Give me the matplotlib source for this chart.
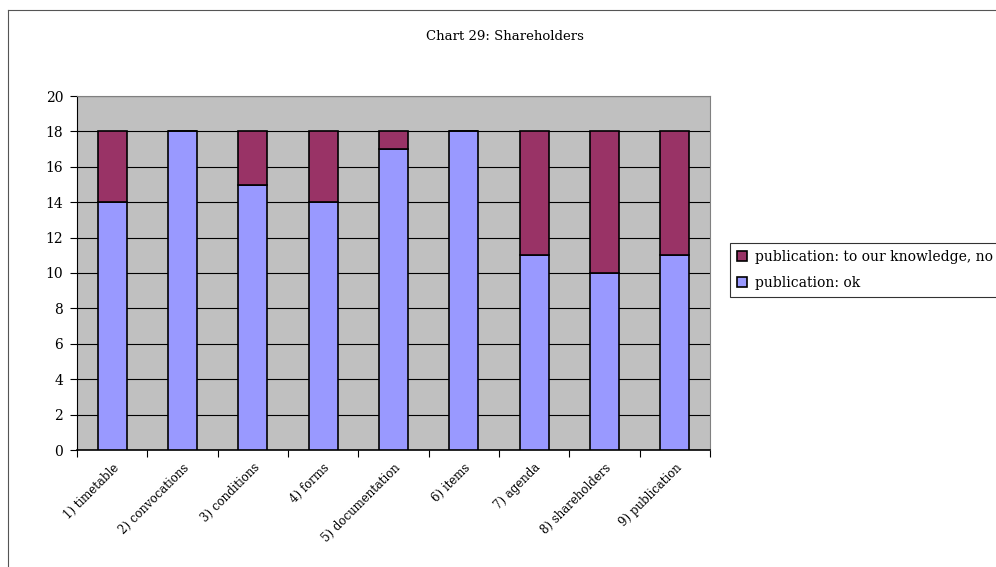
import matplotlib
matplotlib.use("Agg")
import matplotlib.pyplot as plt
import numpy as np
from matplotlib.lines import Line2D

categories = ["1) timetable", "2) convocations", "3) conditions", "4) forms",
              "5) documentation", "6) items", "7) agenda", "8) shareholders",
              "9) publication"]
pub_ok = [14, 18, 15, 14, 17, 18, 11, 10, 11]
pub_no = [4, 0, 3, 4, 1, 0, 7, 8, 7]
yticks = [0, 2, 4, 6, 8, 10, 12, 14, 16, 18, 20]

W, H = 996, 567
fig = plt.figure(figsize=(W / 100, H / 100), dpi=100)
fig.patch.set_facecolor("white")
ax = fig.add_axes([77 / W, 1 - 450 / H, (710 - 77) / W, (450 - 96) / H])
ax.set_facecolor("#C0C0C0")

x = np.arange(len(categories))
ok_c = "#9999FF"
no_c = "#993366"
ax.bar(x, pub_ok, width=0.41, color=ok_c, edgecolor="black", linewidth=1.2,
       label="publication: ok", zorder=3)
ax.bar(x, pub_no, width=0.41, bottom=pub_ok, color=no_c, edgecolor="black",
       linewidth=1.2, label="publication: to our knowledge, no", zorder=3)

ax.set_xlim(-0.5, len(categories) - 0.5)
ax.set_ylim(0, 20)
ax.set_yticks(yticks)
ax.yaxis.grid(True, color="black", linewidth=0.8, zorder=1)
ax.set_axisbelow(True)
ax.tick_params(axis="y", labelsize=10, length=5, direction="out", width=0.8, pad=5)
for lbl in ax.get_yticklabels():
    lbl.set_family("DejaVu Serif")

ax.set_xticks(x)
ax.set_xticklabels(categories, rotation=45, ha="right", rotation_mode="anchor",
                   fontsize=8.5, family="DejaVu Serif")
ax.tick_params(axis="x", length=0, pad=8)
ax.set_xticks(np.arange(-0.5, len(categories) + 0.5, 1), minor=True)
ax.tick_params(axis="x", which="minor", length=5, width=0.8)

for side in ["top", "right"]:
    ax.spines[side].set_color("#808080")
    ax.spines[side].set_linewidth(0.8)
ax.spines["left"].set_color("black")
ax.spines["bottom"].set_color("black")
ax.spines["bottom"].set_linewidth(1.2)

fig.text(505 / W, 1 - 37 / H, "Chart 29: Shareholders", ha="center", va="center",
         fontsize=9.5, family="DejaVu Serif")

# chart border lines
fig.add_artist(Line2D([8 / W, 8 / W], [0, 1 - 10 / H], color="#555555", linewidth=0.8))
fig.add_artist(Line2D([8 / W, 1], [1 - 10 / H, 1 - 10 / H], color="#555555", linewidth=0.8))

handles, labels = ax.get_legend_handles_labels()
leg = fig.legend(handles[::-1], labels[::-1], loc="upper left",
                 bbox_to_anchor=(730 / W, 1 - 243 / H), frameon=True,
                 fancybox=False, edgecolor="black",
                 prop={"family": "DejaVu Serif", "size": 10},
                 handlelength=0.7, handleheight=0.7, handletextpad=0.6,
                 borderpad=0.5, labelspacing=0.85, borderaxespad=0)
leg.get_frame().set_linewidth(0.8)

fig.savefig("out.png", dpi=100)
